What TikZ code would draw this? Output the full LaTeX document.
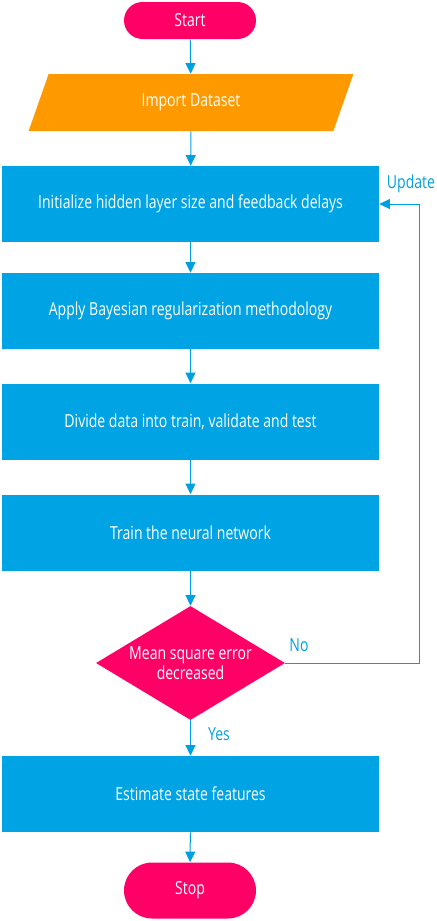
\documentclass[tikz,border=0pt]{standalone}
\usepackage{fontspec}
\setmainfont{Open Sans}[FakeStretch=0.78]
\usetikzlibrary{shapes.geometric,shapes.misc,arrows.meta}

\begin{document}
\begin{tikzpicture}[x=0.75pt,y=0.75pt,yscale=-1,xscale=1,
    font=\fontsize{13.5}{15.5}\selectfont,
    box/.style={fill={rgb, 255:red, 0; green, 163; blue, 227 },text=white,minimum width=282.75pt,minimum height=57pt,inner sep=0pt},
    term/.style={rounded rectangle,fill={rgb, 255:red, 255; green, 0; blue, 102 },text=white,minimum width=99pt,inner sep=0pt},
    flow/.style={draw={rgb, 255:red, 0; green, 160; blue, 224 },line width=0.75pt,-{Triangle[length=8pt,width=7.5pt]}},
    lbl/.style={text={rgb, 255:red, 0; green, 160; blue, 224 },inner sep=0.75pt}]
    \useasboundingbox (0,0) rectangle (436,921);

    %Shape: Terminal [id:start]
    \node [term,minimum height=27.75pt] (start) at (190,20.5) {Start};
    %Shape: Parallelogram [id:import]
    \node [trapezium,trapezium left angle=68,trapezium right angle=112,trapezium stretches=true,
        fill={rgb, 255:red, 255; green, 153; blue, 0 },text=white,minimum width=244.5pt,minimum height=42.75pt,inner sep=0pt] (imp) at (191,102.5) {Import Dataset};
    %Shape: Rectangle [id:init]
    \node [box] (init) at (190.5,204) {Initialize hidden layer size and feedback delays};
    %Shape: Rectangle [id:bayes]
    \node [box] (bayes) at (190.5,311) {Apply Bayesian regularization methodology};
    %Shape: Rectangle [id:divide]
    \node [box] (divide) at (190.5,421.5) {Divide data into train, validate and test};
    %Shape: Rectangle [id:train]
    \node [box] (train) at (190.5,532.5) {Train the neural network};
    %Shape: Diamond [id:mse]
    \node [diamond,aspect=1.66,fill={rgb, 255:red, 255; green, 0; blue, 102 },text=white,align=center,
        minimum width=141.75pt,minimum height=85.5pt,inner sep=0pt] (mse) at (190.5,663) {Mean square error\\decreased};
    %Shape: Rectangle [id:estimate]
    \node [box] (estimate) at (190.5,794) {Estimate state features};
    %Shape: Terminal [id:stop]
    \node [term,minimum height=42pt] (stop) at (190,890.5) {Stop};

    %Straight Lines
    \draw [flow] (start) -- (imp);
    \draw [flow] (imp) -- (init);
    \draw [flow] (init) -- (bayes);
    \draw [flow] (bayes) -- (divide);
    \draw [flow] (divide) -- (train);
    \draw [flow] (train) -- (mse);
    \draw [flow] (mse) -- (estimate);
    \draw [flow] (estimate) -- (stop);
    %Straight Lines [id:loop]
    \coordinate (fb) at (419,204);
    \draw [flow] (mse.east) -| (fb) -- (init.east);

    % Text Node
    \node [lbl] (update) at (411,184) {Update};
    % Text Node
    \node [lbl] (no) at (299,645) {No};
    % Text Node
    \node [lbl] (yes) at (219,734) {Yes};

\end{tikzpicture}
\end{document}
